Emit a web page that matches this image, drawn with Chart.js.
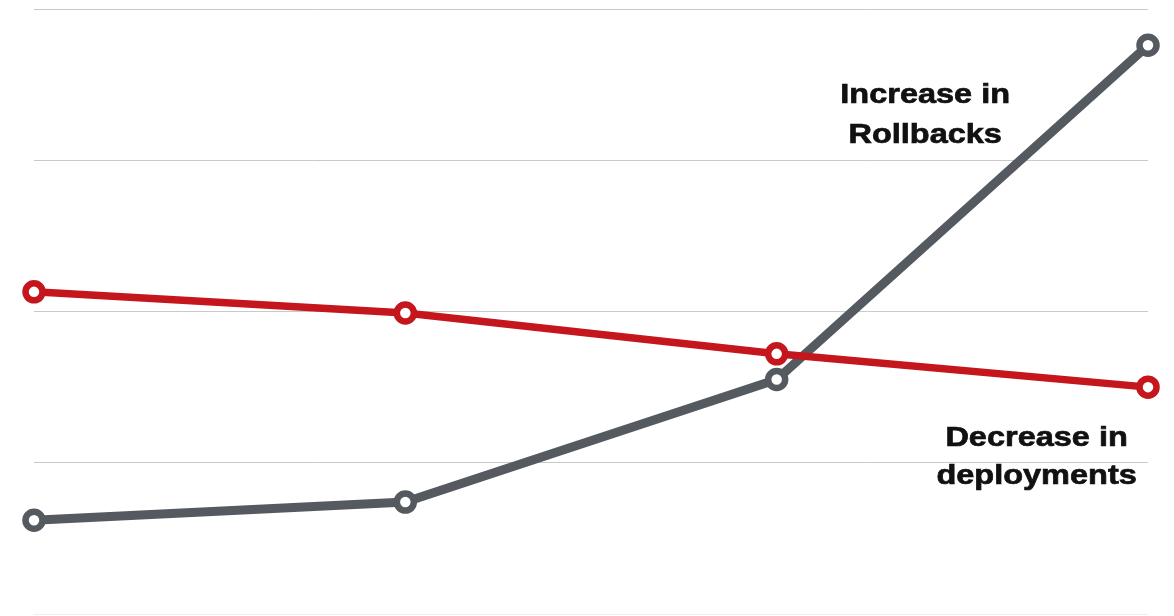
<!DOCTYPE html>
<html>
<head>
<meta charset="utf-8">
<script src="https://cdn.jsdelivr.net/npm/chart.js@4"></script>
<style>
html,body{margin:0;padding:0;background:#fff;}
#wrap{width:1174px;height:616px;position:relative;}
</style>
</head>
<body>
<div id="wrap"><canvas id="c" width="1174" height="616"></canvas></div>
<script>
const categories = ["P1", "P2", "P3", "P4"];
const deployments = [2.13, 1.99, 1.72, 1.50];
const rollbacks = [0.62, 0.74, 1.55, 3.76];
const yTicks = [0, 1, 2, 3, 4];
const labelRollbacks = ["Increase in", "Rollbacks"];
const labelDeployments = ["Decrease in", "deployments"];

const textPlugin = {
  id: 'annot',
  afterDatasetsDraw(chart) {
    const ctx = chart.ctx;
    const xs = chart.scales.x, ys = chart.scales.y;
    const drawLine = (txt, x, y) => {
      ctx.save();
      ctx.translate(x, y);
      ctx.scale(1.16, 1);
      ctx.fillText(txt, 0, 0);
      ctx.strokeText(txt, 0, 0);
      ctx.restore();
    };
    ctx.save();
    ctx.fillStyle = '#111';
    ctx.strokeStyle = '#111';
    ctx.lineWidth = 0.7;
    ctx.font = 'bold 28px "Liberation Sans", Arial, sans-serif';
    ctx.textAlign = 'center';
    ctx.textBaseline = 'middle';
    const x1 = xs.getPixelForValue(2.4);
    const y1 = ys.getPixelForValue(3.43);
    drawLine(labelRollbacks[0], x1, y1);
    drawLine(labelRollbacks[1], x1, y1 + 40);
    const x2 = xs.getPixelForValue(2.7);
    const y2 = ys.getPixelForValue(1.16);
    drawLine(labelDeployments[0], x2, y2);
    drawLine(labelDeployments[1], x2, y2 + 38);
    ctx.restore();
  }
};

new Chart(document.getElementById('c'), {
  type: 'line',
  data: {
    labels: categories,
    datasets: [
      {
        label: 'Deployments',
        data: deployments,
        borderColor: '#c4161c',
        borderWidth: 7.5,
        pointRadius: 8.5,
        pointBorderWidth: 6.5,
        pointBackgroundColor: '#ffffff',
        pointBorderColor: '#c4161c',
        tension: 0
      },
      {
        label: 'Rollbacks',
        data: rollbacks,
        borderColor: '#555960',
        borderWidth: 9,
        pointRadius: 8.5,
        pointBorderWidth: 6.5,
        pointBackgroundColor: '#ffffff',
        pointBorderColor: '#555960',
        tension: 0
      }
    ]
  },
  options: {
    responsive: false,
    animation: false,
    layout: { autoPadding: false, padding: { left: 34, right: 26, top: 9, bottom: 2 } },
    plugins: { legend: { display: false }, tooltip: { enabled: false } },
    scales: {
      x: { display: false, offset: false },
      y: {
        min: 0, max: 4,
        afterBuildTicks(scale) { scale.ticks = yTicks.map(v => ({ value: v })); },
        ticks: { display: false },
        border: { display: false },
        grid: {
          color: (c) => (c.tick && c.tick.value === 0 ? '#eeeeee' : '#c9c9c9'),
          lineWidth: 1,
          drawTicks: false
        },
        afterFit(scale) { scale.width = 0; }
      }
    }
  },
  plugins: [textPlugin]
});
</script>
</body>
</html>
